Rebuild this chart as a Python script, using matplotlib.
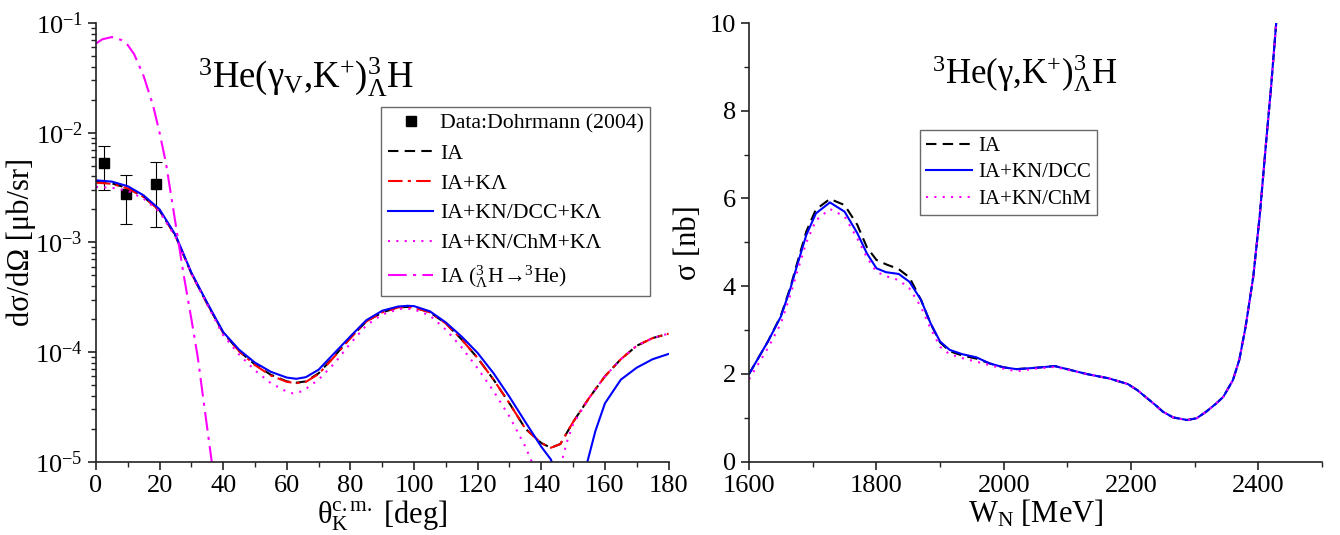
import numpy as np
import matplotlib
matplotlib.use("Agg")
import matplotlib.pyplot as plt
from matplotlib.ticker import MultipleLocator, LogLocator, NullFormatter, FuncFormatter

SERIF = ['Liberation Serif', 'DejaVu Serif']
plt.rcParams['font.family'] = SERIF
plt.rcParams['mathtext.fontset'] = 'custom'
plt.rcParams['mathtext.rm'] = 'Liberation Serif'
plt.rcParams['mathtext.it'] = 'Liberation Serif:italic'
plt.rcParams['mathtext.bf'] = 'Liberation Serif:bold'

# ---- left panel: angular distribution ----
theta = [0, 5, 10, 15, 20, 25, 30, 35, 40, 45, 50, 55, 60, 63, 66, 70, 75, 80, 85, 90,
         95, 98, 100, 105, 110, 115, 120, 125, 130, 135, 140, 143, 146, 150, 155, 160,
         165, 170, 175, 180]
ia = [3.56e-3, 3.45e-3, 3.12e-3, 2.6e-3, 1.95e-3, 1.15e-3, 5.2e-4, 2.75e-4, 1.5e-4, 1.02e-4,
      7.7e-5, 6.2e-5, 5.4e-5, 5.25e-5, 5.4e-5, 6.4e-5, 9.2e-5, 1.35e-4, 1.9e-4, 2.3e-4,
      2.55e-4, 2.58e-4, 2.55e-4, 2.3e-4, 1.82e-4, 1.3e-4, 8.8e-5, 5.6e-5, 3.4e-5, 2.0e-5,
      1.48e-5, 1.34e-5, 1.45e-5, 2.3e-5, 3.8e-5, 6.0e-5, 8.6e-5, 1.14e-4, 1.34e-4, 1.47e-4]
ia_kl = [3.5e-3, 3.42e-3, 3.1e-3, 2.6e-3, 1.95e-3, 1.15e-3, 5.2e-4, 2.75e-4, 1.5e-4, 1.02e-4,
         7.6e-5, 6.1e-5, 5.35e-5, 5.2e-5, 5.35e-5, 6.3e-5, 9.1e-5, 1.34e-4, 1.9e-4, 2.3e-4,
         2.55e-4, 2.58e-4, 2.55e-4, 2.3e-4, 1.82e-4, 1.3e-4, 8.8e-5, 5.6e-5, 3.4e-5, 2.0e-5,
         1.48e-5, 1.34e-5, 1.45e-5, 2.3e-5, 3.8e-5, 6.0e-5, 8.6e-5, 1.14e-4, 1.34e-4, 1.47e-4]

theta_dcc = [0, 5, 10, 15, 20, 25, 30, 35, 40, 45, 50, 55, 60, 63, 66, 70, 75, 80, 85, 90,
             95, 98, 100, 105, 110, 115, 120, 125, 130, 135, 140, 143, 146, 150, 152, 154.5,
             157, 160, 165, 170, 175, 180]
dcc = [3.68e-3, 3.58e-3, 3.25e-3, 2.68e-3, 2.0e-3, 1.17e-3, 5.3e-4, 2.8e-4, 1.52e-4, 1.05e-4,
       8.0e-5, 6.6e-5, 5.85e-5, 5.7e-5, 5.9e-5, 6.9e-5, 9.8e-5, 1.39e-4, 1.95e-4, 2.38e-4,
       2.6e-4, 2.64e-4, 2.62e-4, 2.35e-4, 1.86e-4, 1.38e-4, 9.8e-5, 6.4e-5, 3.9e-5, 2.3e-5,
       1.37e-5, 1.05e-5, 6e-6, 3e-6, 5e-6, 1.0e-5, 1.9e-5, 3.4e-5, 5.6e-5, 7.2e-5, 8.6e-5, 9.6e-5]

theta_chm = [0, 5, 10, 15, 20, 25, 30, 35, 40, 45, 50, 55, 60, 62, 65, 70, 75, 80, 85, 90,
             95, 97, 100, 105, 110, 115, 120, 125, 130, 135, 137, 140, 143, 146.4, 148, 150,
             155, 160, 165, 170, 175, 180]
chm = [3.2e-3, 3.15e-3, 2.95e-3, 2.5e-3, 1.9e-3, 1.12e-3, 5.2e-4, 2.7e-4, 1.42e-4, 9.5e-5,
       6.8e-5, 5.2e-5, 4.35e-5, 4.2e-5, 4.4e-5, 5.6e-5, 7.9e-5, 1.2e-4, 1.75e-4, 2.2e-4,
       2.45e-4, 2.5e-4, 2.45e-4, 2.15e-4, 1.6e-4, 1.1e-4, 7.1e-5, 4.4e-5, 2.58e-5, 1.37e-5,
       1.0e-5, 5e-6, 4e-6, 1.0e-5, 1.5e-5, 2.2e-5, 3.8e-5, 6.0e-5, 8.6e-5, 1.14e-4, 1.34e-4, 1.47e-4]

theta_he = [0, 2, 5, 8, 10, 12, 15, 18, 20, 22, 25, 27.5, 30, 32, 34, 36.4, 37]
ia_he = [6.5e-2, 7.1e-2, 7.45e-2, 7.0e-2, 6.3e-2, 5.2e-2, 3.28e-2, 1.75e-2, 1.0e-2, 5.3e-3,
         1.5e-3, 5.2e-4, 2.0e-4, 9e-5, 3.3e-5, 1.0e-5, 8e-6]

data_theta = [2.6, 9.4, 18.9]
data_val = [5.3e-3, 2.77e-3, 3.39e-3]
data_lo = [3.03e-3, 1.48e-3, 1.38e-3]
data_hi = [7.5e-3, 4.1e-3, 5.4e-3]

# ---- right panel: total cross section ----
w_n = [1600, 1630, 1650, 1665, 1675, 1690, 1705, 1727, 1750, 1770, 1785, 1800, 1815, 1835,
       1852, 1870, 1885, 1900, 1915, 1935, 1957, 1978, 2000, 2020, 2050, 2080, 2130, 2165,
       2195, 2210, 2225, 2240, 2250, 2266, 2288, 2303, 2318, 2334, 2345, 2360, 2370, 2380,
       2392, 2402, 2412, 2420, 2428]
sig_dcc = [2.0, 2.75, 3.31, 3.95, 4.45, 5.17, 5.66, 5.91, 5.70, 5.21, 4.75, 4.41, 4.32, 4.28,
           4.10, 3.69, 3.16, 2.74, 2.55, 2.45, 2.38, 2.24, 2.15, 2.11, 2.14, 2.18, 2.0, 1.90,
           1.77, 1.63, 1.45, 1.27, 1.14, 1.01, 0.95, 0.99, 1.14, 1.33, 1.48, 1.86, 2.32, 3.08,
           4.22, 5.59, 7.26, 8.55, 10.0]
sig_ia = [2.0, 2.75, 3.33, 3.98, 4.5, 5.25, 5.75, 5.99, 5.85, 5.4, 4.89, 4.6, 4.5, 4.39,
          4.2, 3.69, 3.15, 2.72, 2.52, 2.42, 2.35, 2.24, 2.15, 2.11, 2.14, 2.18, 2.0, 1.90,
          1.77, 1.63, 1.45, 1.27, 1.14, 1.01, 0.95, 0.99, 1.14, 1.33, 1.48, 1.86, 2.32, 3.08,
          4.22, 5.59, 7.26, 8.55, 10.0]
sig_chm = [1.88, 2.6, 3.15, 3.81, 4.3, 5.0, 5.5, 5.76, 5.59, 5.09, 4.66, 4.33, 4.23, 4.14,
           3.95, 3.53, 3.04, 2.62, 2.45, 2.36, 2.28, 2.2, 2.12, 2.06, 2.12, 2.16, 2.0, 1.90,
           1.77, 1.63, 1.45, 1.27, 1.14, 1.01, 0.95, 0.99, 1.14, 1.33, 1.48, 1.86, 2.32, 3.08,
           4.22, 5.59, 7.26, 8.55, 10.0]


def pow10(v, pos):
    return '10$^{%d}$' % int(round(np.log10(v)))


fig = plt.figure(figsize=(13.4, 5.35), dpi=100)
ax1 = fig.add_axes([0.0716, 0.137, 0.4273, 0.820])
ax2 = fig.add_axes([0.559, 0.137, 0.4276, 0.820])

lw = 1.5
ax1.errorbar(data_theta, data_val,
             yerr=[np.array(data_val) - np.array(data_lo), np.array(data_hi) - np.array(data_val)],
             fmt='none', ecolor='black', elinewidth=0.8, capsize=4, capthick=0.8)
ax1.plot(data_theta, data_val, 's', color='black', ms=7, label='Data:Dohrmann (2004)')
ax1.plot(theta, ia, color='black', lw=lw, dashes=(5, 3), label='IA')
ax1.plot(theta, ia_kl, color='#ff0000', lw=lw, dashes=(7, 2.5, 1.5, 2.5), label='IA+KΛ')
ax1.plot(theta_dcc, dcc, color='#0000ff', lw=lw, label='IA+KN/DCC+KΛ')
ax1.plot(theta_chm, chm, color='#ff00ff', lw=lw, dashes=(1, 3), label='IA+KN/ChM+KΛ')
ax1.plot(theta_he, ia_he, color='#ff00ff', lw=lw, dashes=(9, 3, 1.5, 3),
         label='IA ($^{3}_{\\Lambda}$H→$^{3}$He)')

ax1.set_yscale('log')
ax1.set_xlim(0, 180)
ax1.set_ylim(1e-5, 1e-1)
ax1.xaxis.set_major_locator(MultipleLocator(20))
ax1.xaxis.set_minor_locator(MultipleLocator(10))
ax1.yaxis.set_major_locator(LogLocator(base=10, numticks=10))
ax1.yaxis.set_major_formatter(FuncFormatter(pow10))
ax1.yaxis.set_minor_locator(LogLocator(base=10, subs=np.arange(2, 10), numticks=10))
ax1.yaxis.set_minor_formatter(NullFormatter())
ax1.set_ylabel('dσ/dΩ [μb/sr]', fontsize=22)
ax1.yaxis.set_label_coords(-0.105, 0.5)
ax1.set_xlabel('θ$_{\\mathrm{K}}^{\\mathrm{c.m.}}$ [deg]', fontsize=22, labelpad=1)
ax1.text(0.367, 0.852, '$^{3}$He(γ$_{\\mathrm{V}}$,K$^{+}$)$^{3}_{\\Lambda}$H',
         transform=ax1.transAxes, fontsize=26.5, ha='center', va='baseline')
leg1 = ax1.legend(loc='upper left', bbox_to_anchor=(0.498, 0.8085), borderaxespad=0,
                  fontsize=15.7, frameon=True, fancybox=False, handlelength=2.1,
                  handletextpad=0.3, labelspacing=0.44, borderpad=0.3)
leg1.get_frame().set_edgecolor('#444444')
leg1.get_frame().set_linewidth(1.0)

ax2.plot(w_n, sig_ia, color='black', lw=lw, dashes=(5, 3), label='IA')
ax2.plot(w_n, sig_dcc, color='#0000ff', lw=lw, label='IA+KN/DCC')
ax2.plot(w_n, sig_chm, color='#ff00ff', lw=lw, dashes=(1, 3), label='IA+KN/ChM')
ax2.set_xlim(1600, 2500)
ax2.set_ylim(0, 10)
ax2.xaxis.set_major_locator(MultipleLocator(200))
ax2.xaxis.set_minor_locator(MultipleLocator(100))
ax2.yaxis.set_major_locator(MultipleLocator(2))
ax2.yaxis.set_minor_locator(MultipleLocator(1))
ax2.set_ylabel('σ [nb]', fontsize=22)
ax2.yaxis.set_label_coords(-0.08, 0.5)
ax2.set_xlabel('W$_{\\mathrm{N}}$ [MeV]', fontsize=22, labelpad=1)
ax2.text(0.319, 0.863, '$^{3}$He(γ,K$^{+}$)$^{3}_{\\Lambda}$H',
         transform=ax2.transAxes, fontsize=25, ha='left', va='baseline')
leg2 = ax2.legend(loc='upper left', bbox_to_anchor=(0.298, 0.756), borderaxespad=0,
                  fontsize=15, frameon=True, fancybox=False, handlelength=2.2,
                  handletextpad=0.3, labelspacing=0.33, borderpad=0.3)
leg2.get_frame().set_edgecolor('#444444')
leg2.get_frame().set_linewidth(1.0)

for ax in (ax1, ax2):
    ax.spines['top'].set_visible(False)
    ax.spines['right'].set_visible(False)
    for s in ('left', 'bottom'):
        ax.spines[s].set_linewidth(1.2)
        ax.spines[s].set_color('#222222')
    ax.tick_params(which='major', direction='out', length=6, width=1.2, labelsize=19,
                   colors='#222222', labelcolor='black', labelfontfamily='Liberation Serif')
    ax.tick_params(which='minor', direction='out', length=3.5, width=1.0, colors='#222222')

fig.savefig('out.png', dpi=100)
